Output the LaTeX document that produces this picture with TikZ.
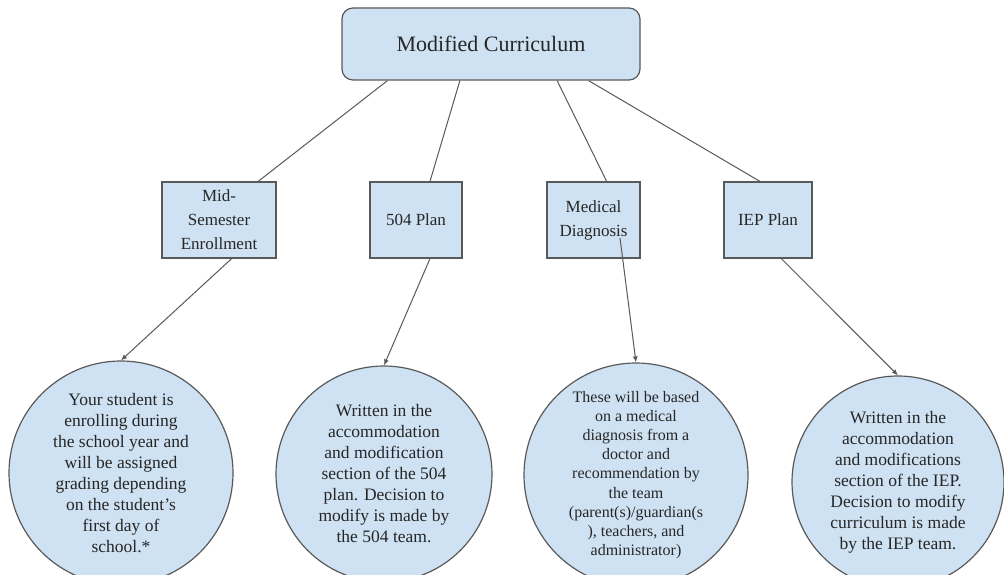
\documentclass[tikz,border=0pt]{standalone}
\usepackage{fontspec}
\setmainfont{LiberationSerif}[Extension=.ttf,UprightFont=*-Regular,BoldFont=*-Bold,ItalicFont=*-Italic]
\usetikzlibrary{arrows.meta,calc}
\definecolor{paleblue}{HTML}{CFE2F3}
\definecolor{edgegray}{HTML}{595959}
\definecolor{inkgray}{HTML}{262626}
\begin{document}
\begin{tikzpicture}[x=1pt,y=-1pt,
    every node/.style={text=inkgray},
    topbox/.style={draw=edgegray,fill=paleblue,line width=1.2pt,rounded corners=11pt,
      minimum width=298pt,minimum height=72pt,inner sep=0pt,
      font=\fontsize{22}{26}\selectfont},
    kindbox/.style={draw=edgegray,fill=paleblue,line width=1.2pt,
      minimum height=76pt,inner sep=0pt,align=center,
      font=\fontsize{17}{24}\selectfont},
    bubble/.style={circle,draw=edgegray,fill=paleblue,line width=1.2pt,
      inner sep=0pt,align=center,font=\fontsize{17.5}{21}\selectfont},
    link/.style={draw=edgegray,line width=1pt},
    arr/.style={link,-{Latex[length=6pt,width=5pt]}}]
  \useasboundingbox (0,0) rectangle (1004,575);

  \node[topbox] (mc) at (491,44) {Modified Curriculum};

  \node[kindbox,minimum width=114pt] (mid) at (219,220) {Mid-\\Semester\\Enrollment};
  \node[kindbox,minimum width=92pt] (plan) at (416,220) {504 Plan};
  \node[kindbox,minimum width=93pt] (med) at (593.5,220) {Medical\\Diagnosis};
  \node[kindbox,minimum width=88pt] (iep) at (768,220) {IEP Plan};

  \node[bubble,minimum size=224pt] (c1) at (121,473)
    {Your student is\\enrolling during\\the school year and\\will be assigned\\grading depending\\on the student's\\first day of\\school.*};
  \node[bubble,minimum size=216pt] (c2) at (384,474)
    {Written in the\\accommodation\\and modification\\section of the 504\\plan. Decision to\\modify is made by\\the 504 team.};
  \node[bubble,minimum size=224pt,font=\fontsize{16}{19.2}\selectfont] (c3) at (636,475)
    {These will be based\\on a medical\\diagnosis from a\\doctor and\\recommendation by\\the team\\(parent(s)/guardian(s\\), teachers, and\\administrator)};
  \node[bubble,minimum size=212pt] (c4) at (898,482)
    {Written in the\\accommodation\\and modifications\\section of the IEP.\\Decision to modify\\curriculum is made\\by the IEP team.};

  % top box to the four kinds
  \draw[link] ($(mc.south west)!0.154!(mc.south east)$) -- ($(mid.north west)!0.84!(mid.north east)$);
  \draw[link] ($(mc.south west)!0.396!(mc.south east)$) -- ($(plan.north west)!0.65!(plan.north east)$);
  \draw[link] ($(mc.south west)!0.721!(mc.south east)$) -- ($(med.north west)!0.64!(med.north east)$);
  \draw[link] ($(mc.south west)!0.826!(mc.south east)$) -- ($(iep.north west)!0.41!(iep.north east)$);

  % kinds to their notes
  \draw[arr] ($(mid.south west)!0.61!(mid.south east)$) -- (c1.north);
  \draw[arr] ($(plan.south west)!0.65!(plan.south east)$) -- (c2.north);
  \draw[arr] (620,238) -- (c3.north);
  \draw[arr] ($(iep.south west)!0.65!(iep.south east)$) -- (c4.north);
\end{tikzpicture}
\end{document}
